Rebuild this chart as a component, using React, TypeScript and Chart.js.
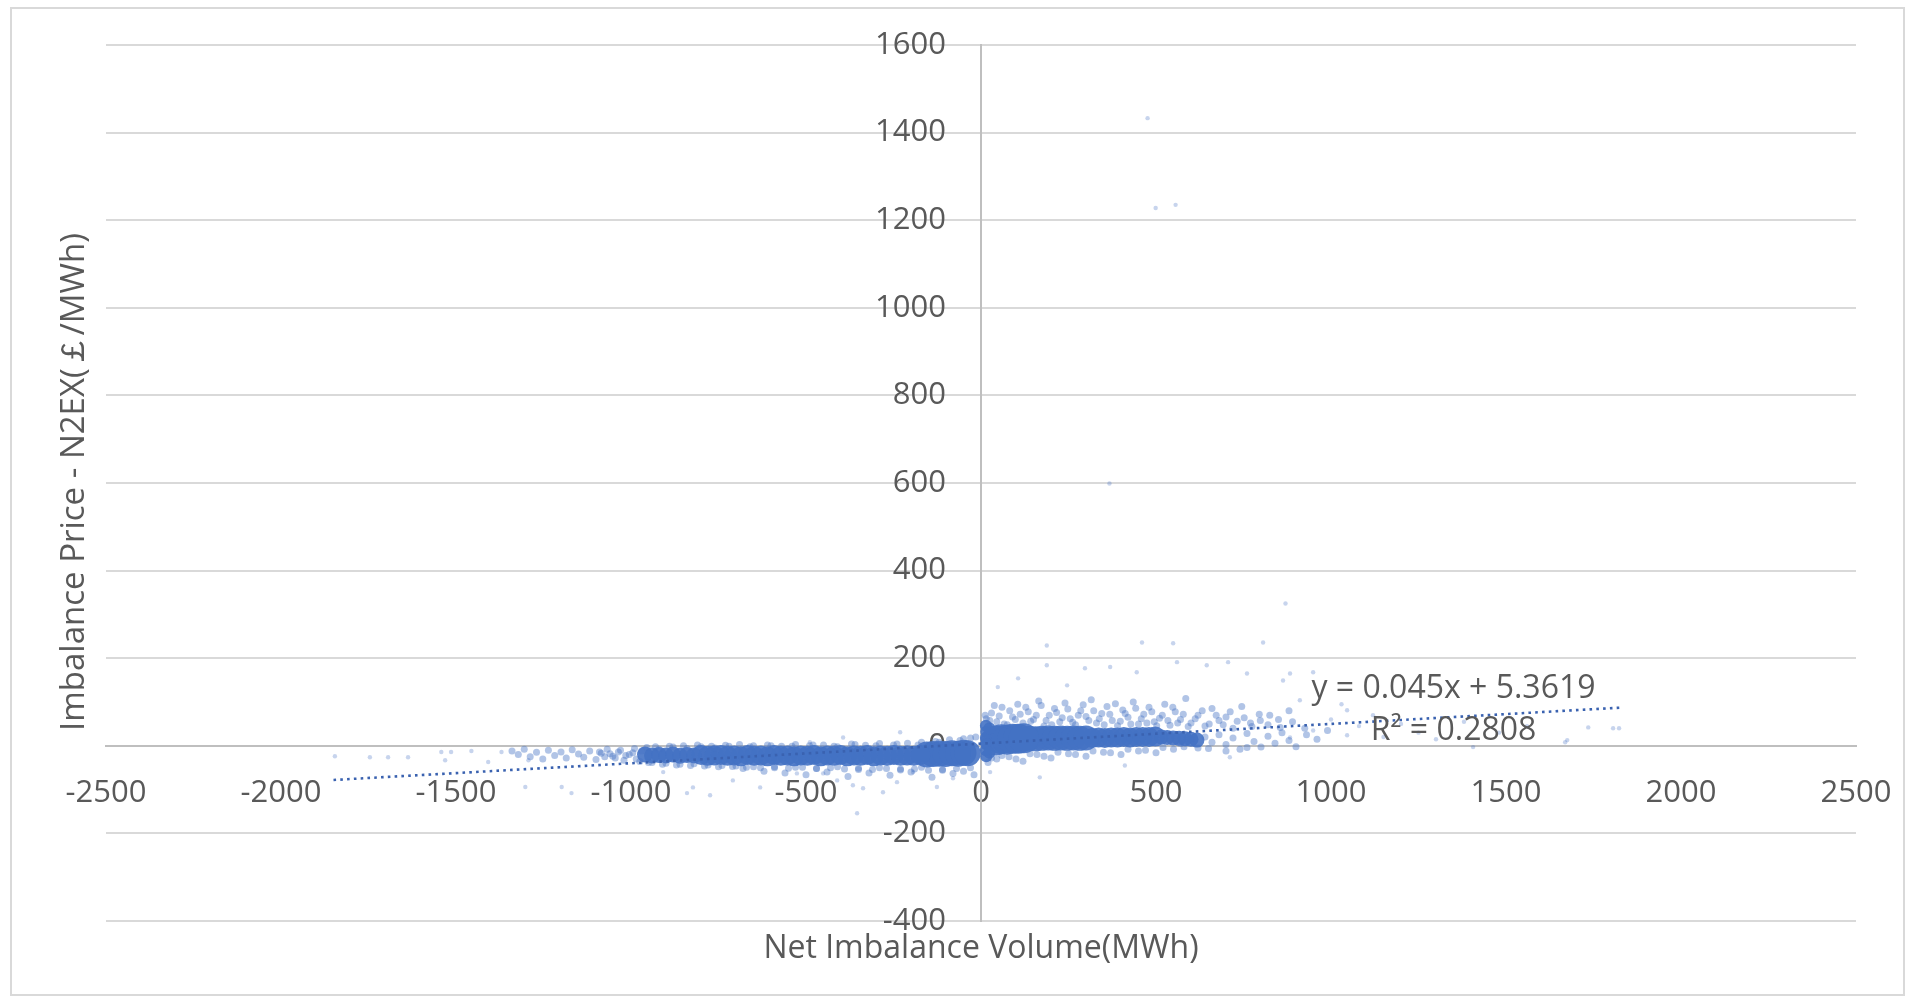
import React, { useEffect, useRef } from 'react';
import { Chart, registerables } from 'chart.js';

Chart.register(...registerables);

// Axis ranges / ticks
const X_MIN = -2500;
const X_MAX = 2500;
const X_STEP = 500;
const Y_MIN = -400;
const Y_MAX = 1600;
const Y_STEP = 200;
const Y_LABEL_ANCHOR_X = -100; // x value where the y tick labels end

const X_TITLE = 'Net Imbalance Volume(MWh)';
const Y_TITLE = 'Imbalance Price - N2EX(￡/MWh)';
const TREND_EQ = 'y = 0.045x + 5.3619';
const TREND_R2 = 'R² = 0.2808';
const TREND_LABEL_X = 1350;
const TREND_EQ_Y = 131;
const TREND_R2_Y = 35;

// Trend line endpoints
const trendLine: [number, number][] = [[-1850, -78], [1825, 87]];

// Dense core of the cloud, negative volumes
const coreNegThin: [number, number][] = [
  [-960,-20],[-940,-22],[-920,-21],[-900,-22],[-880,-20],[-860,-23],[-840,-21],[-820,-22],
];
const coreNeg: [number, number][] = [
  [-800,-21],[-781,-23],[-762,-22],[-743,-21],[-724,-23],[-705,-22],[-686,-24],[-667,-21],[-648,-23],
  [-629,-22],[-610,-24],[-591,-21],[-572,-23],[-553,-22],[-534,-24],[-515,-22],[-496,-23],[-477,-21],
  [-458,-24],[-439,-22],[-420,-23],[-401,-21],[-382,-24],[-363,-22],[-344,-23],[-325,-21],[-306,-24],
  [-287,-22],[-268,-23],[-249,-21],[-230,-23],[-211,-22],[-192,-23],[-173,-21],
];
const coreNegWide: [number, number][] = [
  [-155,-20],[-137,-19],[-119,-18],[-101,-19],[-83,-17],[-65,-18],[-50,-16],[-38,-17],
];

// Dense core of the cloud, positive volumes
const corePosWide: [number, number][] = [
  [42,12],[58,15],[74,14],[90,16],[106,16],[122,17],
];
const corePos: [number, number][] = [
  [138,17],[156,16],[174,17],[192,18],[210,17],[228,18],[246,17],[264,18],[282,17],[300,18],
];
const corePosMid: [number, number][] = [
  [318,18],[336,19],[354,18],[372,19],[390,19],[408,20],[426,19],[444,20],[462,20],[480,20],[498,21],
];
const corePosThin: [number, number][] = [
  [515,20],[532,19],[549,18],[566,17],[583,16],[600,15],[617,13],
];
const coreEdge: [number, number][] = [
  [14,46],[15,32],[14,18],[15,4],[14,-10],[15,-24],[24,40],[24,-16],
];

// Medium-density points around the core
const haloNeg: [number, number][] = [
  [-1340,-12],[-1322,-20],[-1305,-8],[-1288,-25],[-1270,-15],[-1252,-30],[-1236,-10],[-1218,-22],[-1200,-14],
  [-1185,-28],[-1168,-9],[-1150,-19],[-1135,-26],[-1118,-12],[-1100,-31],[-1085,-17],[-1068,-8],[-1052,-24],
  [-1036,-14],[-1020,-33],[-1005,-20],
  [-1090,-14],[-1075,-25],[-1060,-18],[-1045,-28],[-1030,-10],[-1015,-22],[-995,-16],[-985,-30],[-970,-12],
  [-990,-6],[-975,-36],[-955,-4],[-940,-38],[-920,-8],[-900,-40],[-880,-3],[-860,-42],[-840,-6],[-820,-41],
  [-800,-2],[-780,-44],[-760,-5],[-740,-45],[-720,-1],[-700,-46],
  [-680,-52],[-650,-48],[-620,-58],[-590,-50],[-560,-62],[-530,-49],[-500,-66],[-470,-52],[-440,-60],[-410,-48],
  [-380,-70],[-350,-54],[-320,-62],[-290,-50],[-260,-67],[-230,-53],[-200,-60],[-170,-49],[-140,-72],[-110,-56],
  [-80,-63],[-50,-58],[-20,-66],
  [-660,-2],[-600,0],[-540,-1],[-480,2],[-420,-1],[-360,3],[-300,0],[-240,4],[-180,2],[-120,8],[-60,12],[-30,18],
  [-950,-38],[-930,-2],[-910,-42],[-890,-1],[-870,-44],[-850,0],[-830,-45],[-810,2],[-790,-46],[-770,-1],
  [-750,-48],[-730,1],[-710,-47],[-690,3],[-670,-49],[-650,0],[-630,-50],[-610,2],[-590,-48],[-570,-1],
  [-550,-51],[-530,3],[-510,-49],[-490,0],[-470,-52],[-450,2],[-430,-50],[-410,-2],[-390,-53],[-370,4],
  [-350,-51],[-330,1],[-310,-54],[-290,5],[-270,-52],[-250,2],[-230,-55],[-210,6],[-190,-53],[-170,8],
  [-150,-56],[-130,10],[-110,-54],[-90,14],[-70,-52],[-50,16],[-30,-50],[-15,20],
];

const haloPos: [number, number][] = [
  [15,62],[30,75],[45,55],[60,88],[75,48],[90,66],[105,95],[120,52],[135,78],[150,60],[165,102],[180,45],
  [195,70],[210,85],[225,55],[240,98],[255,62],[270,48],[285,80],[300,67],[315,105],[330,52],[345,74],[360,90],
  [375,58],[390,46],[405,82],[420,65],[435,100],[450,50],[465,72],[480,88],[495,55],[510,63],[525,95],[540,47],
  [555,78],[570,60],[585,108],[600,52],[620,70],[640,45],[660,85],[680,58],[700,66],[720,40],[745,90],[770,52],
  [795,72],[820,48],[850,60],[880,80],
  [12,70],[25,58],[38,92],[52,68],[66,50],[82,80],[98,60],[112,72],[128,88],[142,56],[158,70],[172,92],
  [186,58],[202,48],[216,76],[232,64],[248,84],[262,54],[278,70],[292,94],[308,58],[322,80],[338,62],[352,48],
  [368,72],[384,96],[398,56],[412,74],[428,50],[442,86],[458,62],[474,52],[488,78],[502,46],[518,70],[534,58],
  [548,88],[562,52],[578,72],[592,44],[612,62],[632,80],[652,50],[672,70],[692,48],[712,78],[732,56],[752,64],
  [774,44],[798,58],[825,70],[855,42],[890,55],[925,40],
  [570,5],[600,15],[620,-5],[640,20],[660,8],[680,25],[700,3],[720,18],[740,-8],[760,28],[780,10],[800,-3],
  [820,22],[840,6],[860,30],[880,12],[900,-2],[930,25],[960,15],[990,35],
  [20,-38],[45,-30],[80,-25],[120,-35],[160,-20],[200,-28],[250,-18],[300,-24],[350,-15],[400,-20],[450,-12],
  [500,-16],[550,-8],
  [30,-28],[60,-22],[100,-30],[140,-18],[180,-24],[220,-15],[270,-20],[320,-12],[370,-16],[420,-8],[470,-10],
  [520,-4],[580,-2],[650,-6],[700,-12],[760,-4],
];

// Sparse outliers
const sparse: [number, number][] = [
  [476,1433],[499,1228],[556,1235],[367,599],[870,325],
  [188,229],[460,236],[549,234],[806,236],[297,177],[369,180],[445,168],[560,191],[645,184],[706,191],
  [188,184],[760,165],[863,149],[48,134],[106,154],[246,138],[168,-72],[411,-45],[711,-26],[26,-60],
  [883,165],[949,168],[949,35],[883,19],[1046,81],[1046,24],[911,104],[1806,40],[1669,8],[1406,-3],
  [1000,60],[1030,95],[1080,45],[1120,70],[1150,20],[1200,50],[1250,30],[1300,15],[1380,55],[1480,30],
  [1560,45],[1735,42],[1823,40],[1675,13],
  [-823,-95],[-774,-113],[-709,-79],[-631,-95],[-526,-63],[-451,-63],[-411,-79],[-366,-90],[-337,-97],
  [-354,-154],[-280,-106],[-240,-83],[-194,-60],[-126,-94],[-80,-74],[-394,19],[-231,31],[-489,8],[-908,-60],
  [-1846,-24],[-1746,-26],[-1694,-26],[-1637,-26],[-1542,-14],[-1531,-33],[-1514,-14],[-1456,-12],[-1408,-37],
  [-1370,-14],[-1293,-33],[-1302,-94],[-1198,-94],[-1170,-108],[-840,-108],
];

const toPts = (a: [number, number][]) => a.map(([x, y]) => ({ x, y }));

const TEXT_COLOR = '#595959';
const FONT_FAMILY = "'Open Sans', 'Noto Sans', sans-serif";
const FONT_SIZE = 31;

const zeroFit = (horizontal: boolean) => (s: any) => {
  if (horizontal) s.height = 0; else s.width = 0;
  s.paddingTop = 0; s.paddingBottom = 0; s.paddingLeft = 0; s.paddingRight = 0;
};

const textPlugin = {
  id: 'extraTexts',
  afterDraw(chart: any) {
    const { ctx, chartArea, scales } = chart;
    ctx.save();
    ctx.fillStyle = TEXT_COLOR;
    ctx.textAlign = 'center';
    ctx.textBaseline = 'middle';
    ctx.font = `32px ${FONT_FAMILY}`;
    ctx.fillText(X_TITLE, (chartArea.left + chartArea.right) / 2, chartArea.bottom + 28);
    ctx.save();
    ctx.font = `33px ${FONT_FAMILY}`;
    ctx.translate(chartArea.left - 31, chartArea.top + 437);
    ctx.rotate(-Math.PI / 2);
    ctx.fillText(Y_TITLE, 0, 0);
    ctx.restore();
    ctx.font = `32px ${FONT_FAMILY}`;
    const tx = scales.x.getPixelForValue(TREND_LABEL_X);
    ctx.fillText(TREND_EQ, tx, scales.y.getPixelForValue(TREND_EQ_Y));
    ctx.fillText(TREND_R2, tx, scales.y.getPixelForValue(TREND_R2_Y));
    ctx.restore();
  },
};

export default function App() {
  const ref = useRef<HTMLCanvasElement | null>(null);
  useEffect(() => {
    if (!ref.current) return;
    const blue = (a: number) => `rgba(68,114,196,${a})`;
    const pts = (label: string, data: [number, number][], r: number, a: number, order: number) => ({
      label, data: toPts(data), pointRadius: r, backgroundColor: blue(a), borderWidth: 0, order,
    });
    const chart = new Chart(ref.current, {
      type: 'scatter',
      data: {
        datasets: [
          {
            label: 'trend',
            data: toPts(trendLine),
            showLine: true,
            borderColor: '#3A62B0',
            borderWidth: 2.6,
            borderDash: [2.6, 4.2],
            pointRadius: 0,
            order: 0,
          },
          pts('sparse', sparse, 2.2, 0.3, 1),
          pts('halo', [...haloNeg, ...haloPos], 3.5, 0.42, 2),
          pts('coreNegThin', coreNegThin, 8, 0.9, 3),
          pts('coreNeg', coreNeg, 10, 0.9, 3),
          pts('coreNegWide', coreNegWide, 13, 0.9, 3),
          pts('coreEdge', coreEdge, 6, 0.9, 3),
          pts('corePosWide', corePosWide, 15, 0.9, 3),
          pts('corePos', corePos, 12.5, 0.9, 3),
          pts('corePosMid', corePosMid, 10, 0.9, 3),
          pts('corePosThin', corePosThin, 7.5, 0.9, 3),
        ],
      },
      options: {
        animation: false,
        responsive: true,
        maintainAspectRatio: false,
        layout: { padding: { left: 106, right: 50, top: 45, bottom: 76 } },
        plugins: { legend: { display: false }, tooltip: { enabled: false } },
        scales: {
          x: {
            type: 'linear',
            min: X_MIN,
            max: X_MAX,
            position: { y: 0 } as any,
            afterFit: zeroFit(true),
            grid: { display: false, drawTicks: false },
            border: { display: true, color: '#bfbfbf', width: 2 },
            ticks: {
              stepSize: X_STEP,
              maxRotation: 0,
              autoSkip: false,
              padding: 29,
              color: TEXT_COLOR,
              font: { size: FONT_SIZE, family: FONT_FAMILY },
              callback: (v: any) => String(v),
            },
          },
          y: {
            type: 'linear',
            min: Y_MIN,
            max: Y_MAX,
            position: { x: 0 } as any,
            afterFit: zeroFit(false),
            grid: { display: true, color: '#d9d9d9', lineWidth: 2, drawTicks: false },
            border: { display: true, color: '#bfbfbf', width: 2 },
            ticks: { stepSize: Y_STEP, display: false },
          },
          yTicks: {
            type: 'linear',
            axis: 'y',
            min: Y_MIN,
            max: Y_MAX,
            position: { x: Y_LABEL_ANCHOR_X } as any,
            afterFit: zeroFit(false),
            grid: { display: false, drawTicks: false },
            border: { display: false },
            ticks: {
              stepSize: Y_STEP,
              padding: 0,
              color: TEXT_COLOR,
              font: { size: FONT_SIZE, family: FONT_FAMILY },
              callback: (v: any) => String(v),
            },
          },
        },
      },
      plugins: [textPlugin],
    });
    return () => chart.destroy();
  }, []);

  return (
    <div style={{ position: 'fixed', left: 0, top: 0, width: 1906, height: 997, background: '#fff' }}>
      <div
        style={{
          position: 'absolute', left: 10, top: 7, right: 1, bottom: 1,
          border: '2px solid #d9d9d9', boxSizing: 'border-box',
        }}
      />
      <div style={{ position: 'absolute', left: 0, top: 0, width: 1906, height: 997 }}>
        <canvas ref={ref} />
      </div>
    </div>
  );
}
